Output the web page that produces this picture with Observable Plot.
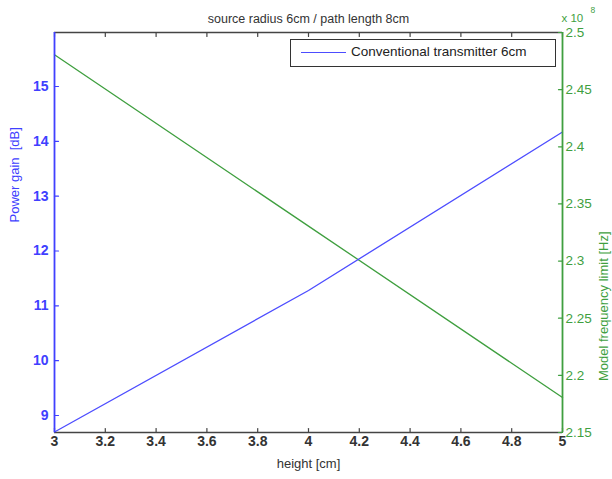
<!DOCTYPE html>
<html><head><meta charset="utf-8">
<script src="https://cdn.jsdelivr.net/npm/d3@7"></script>
<script src="https://cdn.jsdelivr.net/npm/@observablehq/plot@0.6"></script>
<style>
body{margin:0;background:#fff;font-family:"Liberation Sans",Arial,sans-serif}
#wrap{position:relative;width:612px;height:479px}
#legend{position:absolute;left:290px;top:39px;width:264px;height:26px;border:1.5px solid #333;background:#fff;box-sizing:content-box}
#legend .sw{position:absolute;left:10px;top:12px;width:45px;height:0;border-top:1.4px solid #4d4dff}
#legend .lb{position:absolute;left:60px;top:4px;font-size:13.5px;color:#222;white-space:nowrap}
</style></head><body>
<div id="wrap"><div id="legend"><span class="sw"></span><span class="lb">Conventional transmitter 6cm</span></div></div>
<script>
const heights = [3, 4, 5];
const powerGain = [8.70, 11.28, 14.17];          // dB
const freqLimit = [2.4805, 2.3306, 2.1806];      // x 10^8 Hz
const xTicks = [3, 3.2, 3.4, 3.6, 3.8, 4, 4.2, 4.4, 4.6, 4.8, 5];
const leftTicks = [9, 10, 11, 12, 13, 14, 15];
const rightTicks = [2.15, 2.2, 2.25, 2.3, 2.35, 2.4, 2.45, 2.5];
const leftDomain = [8.69, 15.985];
const rightDomain = [2.15, 2.5];
const legendLabel = "Conventional transmitter 6cm";

const blue = "#4040ff", green = "#3f9f3f", gray = "#444";
const toLeft = v => leftDomain[0] + (v - rightDomain[0]) / (rightDomain[1] - rightDomain[0]) * (leftDomain[1] - leftDomain[0]);
const tickShape = {draw(ctx, l) { ctx.moveTo(0, 0); ctx.lineTo(0, -l); }};

const blueData = heights.map((h, i) => ({h, v: powerGain[i]}));
const greenData = heights.map((h, i) => ({h, v: toLeft(freqLimit[i])}));

const chart = Plot.plot({
  width: 612, height: 479,
  marginLeft: 54, marginRight: 50, marginTop: 32, marginBottom: 47,
  style: {fontFamily: '"Liberation Sans", Arial, sans-serif', background: "#fff"},
  x: {domain: [3, 5], axis: null},
  y: {domain: leftDomain, axis: null},
  marks: [
    Plot.ruleY([leftDomain[1]], {stroke: gray, strokeWidth: 1.5}),
    Plot.ruleY([leftDomain[0]], {stroke: gray, strokeWidth: 1.6}),
    Plot.vector(xTicks, {x: d => d, frameAnchor: "bottom", rotate: 0, anchor: "start", length: 4, shape: tickShape, stroke: gray, strokeWidth: 1.2}),
    Plot.vector(xTicks, {x: d => d, frameAnchor: "top", rotate: 180, anchor: "start", length: 4, shape: tickShape, stroke: gray, strokeWidth: 1.2}),
    Plot.vector(leftTicks, {y: d => d, frameAnchor: "left", rotate: 90, anchor: "start", length: 4, shape: tickShape, stroke: blue, strokeWidth: 1.2}),
    Plot.vector(rightTicks, {y: d => toLeft(d), frameAnchor: "right", rotate: -90, anchor: "start", length: 4, shape: tickShape, stroke: green, strokeWidth: 1.2}),
    Plot.line(greenData, {x: "h", y: "v", stroke: green, strokeWidth: 1.3}),
    Plot.line(blueData, {x: "h", y: "v", stroke: "#4d4dff", strokeWidth: 1.3}),
    Plot.ruleX([3], {stroke: blue, strokeWidth: 1.8}),
    Plot.ruleX([5], {stroke: green, strokeWidth: 1.8}),
    Plot.text(xTicks, {x: d => d, frameAnchor: "bottom", dy: 13, text: d => String(d), fontSize: 14, fontWeight: "bold", fill: "#333"}),
    Plot.text(leftTicks, {y: d => d, frameAnchor: "left", dx: -6, textAnchor: "end", text: d => String(d), fontSize: 14, fontWeight: "bold", fill: blue}),
    Plot.text(rightTicks, {y: d => toLeft(d), frameAnchor: "right", dx: 3, textAnchor: "start", text: d => String(d), fontSize: 13.5, fill: green}),
    Plot.text(["x 10"], {frameAnchor: "top-right", dx: -1, dy: -19, textAnchor: "start", fontSize: 11.5, fill: green}),
    Plot.text(["8"], {frameAnchor: "top-right", dx: 28, dy: -26, textAnchor: "start", fontSize: 8.5, fill: green}),
    Plot.text(["source radius 6cm / path length 8cm"], {frameAnchor: "top", dy: -18, fontSize: 12.5, fill: "#333"}),
    Plot.text(["height [cm]"], {frameAnchor: "bottom", dy: 35, fontSize: 13, fill: "#333"}),
    Plot.text(["Power gain  [dB]"], {frameAnchor: "left", dx: -40, dy: -10, rotate: -90, fontSize: 13, fill: blue}),
    Plot.text(["Model frequency limit [Hz]"], {frameAnchor: "right", dx: 41, dy: -1, rotate: -90, fontSize: 13, fill: green})
  ]
});
document.getElementById("wrap").prepend(chart);
document.querySelector("#legend .lb").textContent = legendLabel;
</script>
</body></html>
